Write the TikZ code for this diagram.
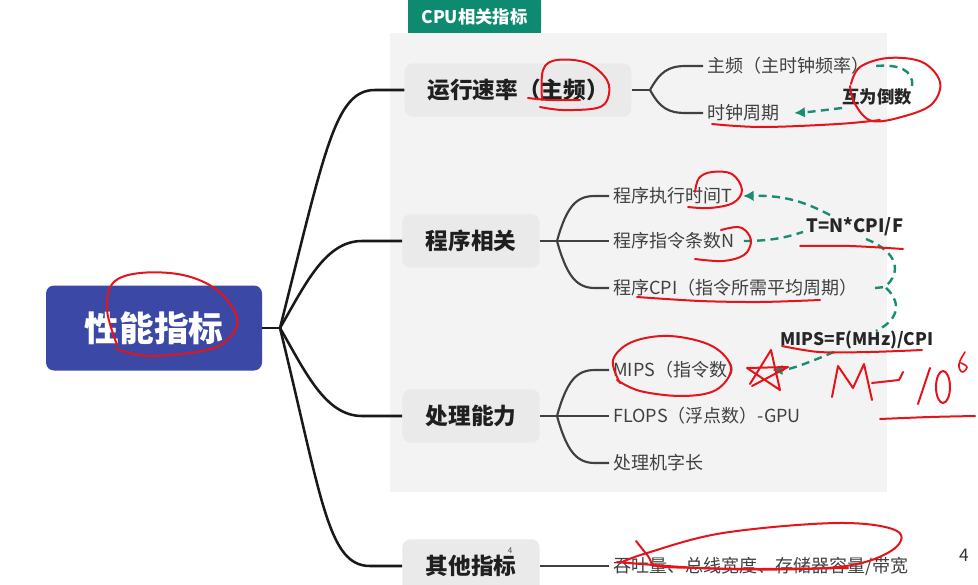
\documentclass[tikz,border=0pt]{standalone}
\usepackage{fontspec}
\setmainfont{Noto Sans CJK SC}
\usetikzlibrary{arrows.meta}
\definecolor{rootblue}{HTML}{3B48A6}
\definecolor{tabteal}{HTML}{0E8A70}
\definecolor{panelgray}{HTML}{F3F3F3}
\definecolor{boxgray}{HTML}{EAEAEA}
\definecolor{dashteal}{HTML}{1A8C74}
\definecolor{inkred}{HTML}{E5141B}
\begin{document}
\begin{tikzpicture}[x=0.75pt,y=-0.75pt,
  rootbox/.style={fill=rootblue, rounded corners=6pt, minimum width=162pt, minimum height=63.75pt, text=white, font=\fontsize{26}{30}\selectfont\bfseries},
  branchbox/.style={fill=boxgray, rounded corners=6pt, minimum width=103pt, minimum height=40pt, text=black!88, font=\fontsize{17}{20}\selectfont\bfseries},
  leaf/.style={anchor=west, inner sep=3pt, text=black!75, font=\fontsize{13.5}{16}\selectfont},
  rootline/.style={draw=black!90, line width=1.9pt},
  subline/.style={draw=black!75, line width=1.6pt},
  reldash/.style={draw=dashteal, line width=1.8pt, dash pattern=on 6pt off 4pt},
  relarrow/.style={reldash, -{Latex[length=8pt,width=8pt]}},
  rellabel/.style={inner sep=1pt, text=black!85, font=\fontsize{13}{16}\selectfont\bfseries},
  ink/.style={draw=inkred, line width=1.5pt, line cap=round, line join=round}]
\useasboundingbox (0,0) rectangle (978,585);
\fill[white] (0,0) rectangle (978,585);
\begin{scope}
\clip (0,0) rectangle (978,585);
% panel and tab
\fill[panelgray] (390,33) rectangle (887,492);
\fill[tabteal, rounded corners=5pt] (408,33) -- (408,-6) -- (541,-6) -- (541,33) -- cycle;
\fill[tabteal] (408,25) rectangle (541,33);
\node[text=white, font=\fontsize{13}{15}\selectfont\bfseries] (tab) at (474.5,17) {CPU相关指标};

% nodes
\node[rootbox] (root) at (154,328) {性能指标};
\node[branchbox, minimum width=170pt] (b1) at (518,90) {运行速率（主频）};
\node[branchbox] (b2) at (471,241) {程序相关};
\node[branchbox] (b3) at (471,416) {处理能力};
\node[branchbox] (b4) at (471,566) {其他指标};

\node[leaf] (zp) at (703,66) {主频（主时钟频率）};
\node[leaf] (sz) at (703,113) {时钟周期};
\node[leaf] (pt) at (609,196) {程序执行时间T};
\node[leaf] (pn) at (609,241) {程序指令条数N};
\node[leaf] (pc) at (609,288) {程序CPI（指令所需平均周期）};
\node[leaf] (mi) at (609,370) {MIPS（指令数）};
\node[leaf] (fl) at (609,416) {FLOPS（浮点数）-GPU};
\node[leaf] (zc) at (609,463) {处理机字长};
\node[leaf] (ot) at (609,566) {吞吐量、总线宽度、存储器容量/带宽};

% connectors
\coordinate (J0) at (280,328);
\draw[rootline] (root.east) -- (J0);
\draw[rootline] (J0) .. controls (325,150) and (335,90) .. (375,90) -- (b1.west);
\draw[rootline] (J0) .. controls (305,285) and (325,241) .. (362,241) -- (b2.west);
\draw[rootline] (J0) .. controls (305,371) and (325,416) .. (362,416) -- (b3.west);
\draw[rootline] (J0) .. controls (322,500) and (328,566) .. (370,566) -- (b4.west);

\coordinate (J1) at (650,90);
\draw[subline] (b1.east) -- (J1);
\draw[subline] (J1) .. controls (660,72) and (668,66) .. (686,66) -- (zp.west);
\draw[subline] (J1) .. controls (660,108) and (668,113) .. (686,113) -- (sz.west);

\coordinate (J2) at (557,241);
\draw[subline] (b2.east) -- (J2);
\draw[subline] (J2) .. controls (567,205) and (577,196) .. (595,196) -- (pt.west);
\draw[subline] (J2) -- (pn.west);
\draw[subline] (J2) .. controls (567,277) and (577,288) .. (595,288) -- (pc.west);

\coordinate (J3) at (557,416);
\draw[subline] (b3.east) -- (J3);
\draw[subline] (J3) .. controls (567,380) and (577,370) .. (595,370) -- (mi.west);
\draw[subline] (J3) -- (fl.west);
\draw[subline] (J3) .. controls (567,452) and (577,463) .. (595,463) -- (zc.west);

\draw[subline] (b4.east) -- (ot.west);

% relation labels
\node[rellabel] (hd) at (877,97) {互为倒数};
\node[rellabel, font=\fontsize{13.8}{16}\selectfont\bfseries] (tf) at (855,227) {T=N*CPI/F};
\node[rellabel] (mf) at (857,340) {MIPS=F(MHz)/CPI};
\coordinate (cb) at (885,287);

% dashed relations
\draw[relarrow] ([xshift=2pt]zp.east) .. controls (898,64) and (914,70) .. (912,86)
   (842,108) .. controls (825,110) and (810,112) .. ([xshift=8pt]sz.east);
\draw[reldash] ([xshift=4pt]pn.east) .. controls (775,241) and (790,236) .. (803,232);
\draw[relarrow] (830,215) .. controls (810,205) and (790,195) .. ([xshift=5pt]pt.east);
\draw[reldash] (866,239) .. controls (898,252) and (902,272) .. (cb)
   .. controls (900,300) and (902,318) .. (876,331);
\draw[reldash] ([xshift=10pt]pc.east) -- (cb);
\draw[relarrow] (834,352) .. controls (810,362) and (790,370) .. ([xshift=17pt]mi.east);

% page numbers
\node[text=black!80, font=\fontsize{13}{15}\selectfont] (pg) at (964,555) {4};
\node[text=black!70, font=\fontsize{6}{7}\selectfont] (pg2) at (510,551) {4};

% red ink annotations
\draw[ink] plot[smooth, tension=0.6] coordinates {(117,345) (107,310) (113,283) (140,273) (183,275) (217,290) (237,317) (230,337) (207,350) (150,356) (116,349)};
\draw[ink] plot[smooth, tension=0.6] coordinates {(542,100) (543,70) (557,60) (587,63) (607,80) (608,98) (597,108) (563,110) (540,107)};
\draw[ink] plot[smooth, tension=0.6] coordinates {(528,98) (550,100) (580,100)};
\draw[ink] plot[smooth, tension=0.6] coordinates {(851,84) (860,67) (888,58) (922,62) (940,82) (932,104) (905,116) (872,121) (855,104) (850,86)};
\draw[ink] plot[smooth, tension=0.6] coordinates {(712,124) (762,127) (838,124) (880,120)};
\draw[ink] plot[smooth, tension=0.6] coordinates {(688,207) (710,208) (733,203) (742,190) (732,174) (712,172) (699,178) (695,192)};
\draw[ink] plot[smooth, tension=0.6] coordinates {(695,259) (723,261) (744,255) (751,242) (746,231) (737,227) (721,230)};
\draw[ink] plot[smooth, tension=0.5] coordinates {(800,246) (850,246) (903,249)};
\draw[ink] plot[smooth, tension=0.5] coordinates {(637,297) (700,301) (760,302) (820,300)};
\draw[ink] plot[smooth, tension=0.6] coordinates {(620,383) (613,360) (632,342) (670,336) (712,346) (731,368) (716,390) (682,396) (640,391) (617,380)};
\draw[ink] (750,384) -- (771,350) -- (780,390) -- (747,368) -- (788,367) -- (752,386);
\draw[ink] plot[smooth, tension=0.5] coordinates {(782,346) (819,352) (870,352) (922,350)};
\draw[ink] (832,397) -- (838,366) -- (853,388) -- (864,364) -- (872,400);
\draw[ink] (872,383) -- (899,380) -- (903,372);
\draw[ink] (930,368) -- (918,404);
\draw[ink] (943,387) ellipse (7 and 16);
\draw[ink, line width=1.2pt] plot[smooth, tension=0.7] coordinates {(965,352) (959,364) (962,372) (967,367) (961,363)};
\draw[ink] plot[smooth, tension=0.5] coordinates {(880,419) (930,417) (975,416)};
\draw[ink] plot[smooth, tension=0.6] coordinates {(617,562) (723,569) (838,567) (891,551) (897,531) (838,523) (723,533) (647,553) (620,563)};
\draw[ink] plot[smooth, tension=0.5] coordinates {(636,541) (648,556) (657,566) (700,568) (760,569) (848,568)};
\end{scope}
\end{tikzpicture}
\end{document}
